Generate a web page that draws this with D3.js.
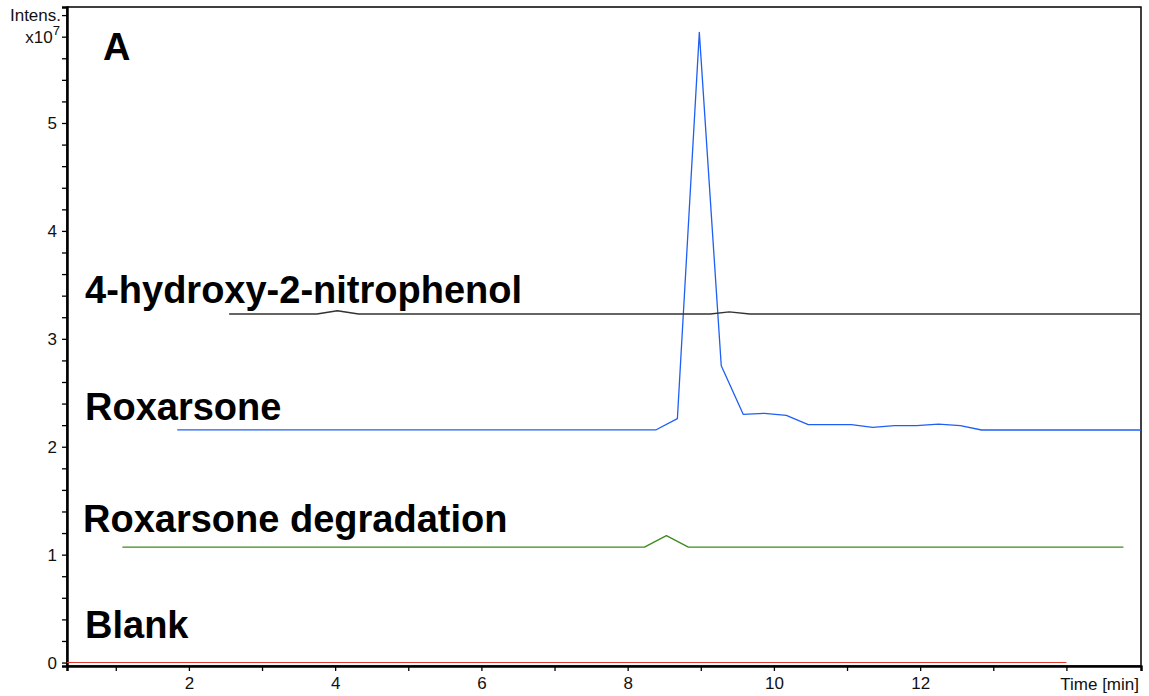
<!DOCTYPE html>
<html>
<head>
<meta charset="utf-8">
<script src="https://cdn.jsdelivr.net/npm/d3@7"></script>
<style>
  html, body { margin: 0; padding: 0; background: #fff; }
  svg { display: block; font-family: "Liberation Sans", Arial, sans-serif; }
</style>
</head>
<body>
<svg id="chart" width="1149" height="696"></svg>
<script>
// Extracted ion chromatograms, intensity in units of 1e7, time in minutes
const blankTrace = [[0.33, 0], [14.0, 0]];
const degradationTrace = [[1.09, 1.069], [8.23, 1.069], [8.53, 1.176], [8.83, 1.069], [14.78, 1.069]];
const roxarsoneTrace = [
  [1.84, 2.157], [8.39, 2.157], [8.68, 2.26], [8.98, 5.84], [9.28, 2.75],
  [9.58, 2.30], [9.87, 2.31], [10.17, 2.29], [10.47, 2.205], [11.06, 2.205],
  [11.35, 2.18], [11.65, 2.195], [11.95, 2.195], [12.25, 2.21], [12.55, 2.195],
  [12.84, 2.155], [15.02, 2.155]
];
const nitrophenolTrace = [
  [2.55, 3.23], [3.75, 3.23], [4.03, 3.26], [4.32, 3.23], [9.13, 3.23],
  [9.39, 3.25], [9.67, 3.23], [15.02, 3.23]
];

const traceNames = ["Blank", "Roxarsone degradation", "Roxarsone", "4-hydroxy-2-nitrophenol"];
const traceColors = ["#e0392e", "#3d8a1e", "#1f5ff5", "#333333"];
const traces = [blankTrace, degradationTrace, roxarsoneTrace, nitrophenolTrace];

const xMajorTicks = [2, 4, 6, 8, 10, 12];
const xMinorTicks = [1, 3, 5, 7, 9, 11, 13];
const xTitleTick = 14;
const yMajorTicks = [0, 1, 2, 3, 4, 5];
const panelLetter = "A";

const svg = d3.select("#chart");
const plot = { left: 67, right: 1141, top: 7, bottom: 666 };

const x = d3.scaleLinear().domain([0.333, 15.02]).range([plot.left, plot.right]);
const y = d3.scaleLinear().domain([-0.032, 6.075]).range([plot.bottom, plot.top]);

// frame
svg.append("rect")
  .attr("x", plot.left).attr("y", plot.top)
  .attr("width", plot.right - plot.left).attr("height", plot.bottom - plot.top)
  .attr("fill", "none").attr("stroke", "#000").attr("stroke-width", 1.5);

// x axis
const xAxis = svg.append("g").attr("transform", `translate(0,${plot.bottom})`);
xAxis.call(d3.axisBottom(x).tickValues(xMajorTicks).tickFormat(d3.format("d")).tickSizeOuter(0).tickSize(5).tickPadding(6));
xAxis.append("g").call(d3.axisBottom(x).tickValues(xMinorTicks.concat([xTitleTick])).tickFormat("").tickSizeOuter(0).tickSize(5));
xAxis.selectAll(".domain").attr("stroke-width", 2);
xAxis.selectAll(".tick line").attr("stroke-width", 1.3);
xAxis.selectAll("text").attr("font-size", 17).attr("font-family", "Liberation Sans, Arial, sans-serif").attr("fill", "#111");
svg.append("text")
  .attr("x", plot.right - 2).attr("y", plot.bottom + 24)
  .attr("text-anchor", "end").attr("font-size", 17).attr("fill", "#111")
  .text("Time [min]");

// y axis
const yMinor = d3.range(0, 61, 2).map(v => v / 10);
const yAxis = svg.append("g").attr("transform", `translate(${plot.left},0)`);
yAxis.call(d3.axisLeft(y).tickValues(yMajorTicks).tickFormat(d3.format("d")).tickSizeOuter(0).tickSize(5).tickPadding(5));
yAxis.append("g").call(d3.axisLeft(y).tickValues(yMinor.filter(v => !yMajorTicks.includes(v))).tickFormat("").tickSizeOuter(0).tickSize(5));
yAxis.selectAll(".domain").attr("stroke-width", 2);
yAxis.selectAll(".tick line").attr("stroke-width", 1.3);
yAxis.selectAll("text").attr("font-size", 17).attr("font-family", "Liberation Sans, Arial, sans-serif").attr("fill", "#111");

// intensity unit label placed at the top tick positions
svg.append("text")
  .attr("x", plot.left - 6).attr("y", y(6.0)).attr("dy", "0.35em")
  .attr("text-anchor", "end").attr("font-size", 17).attr("fill", "#111")
  .text("Intens.");
const unit = svg.append("text")
  .attr("x", plot.left - 7).attr("y", y(5.8)).attr("dy", "0.35em")
  .attr("text-anchor", "end").attr("font-size", 17).attr("fill", "#111");
unit.append("tspan").text("x10");
unit.append("tspan").attr("font-size", 13).attr("dy", "-0.55em").text("7");

// traces
const line = d3.line().x(d => x(d[0])).y(d => y(d[1]));
svg.append("g").selectAll("path")
  .data(traces)
  .join("path")
  .attr("d", line)
  .attr("fill", "none")
  .attr("stroke", (d, i) => traceColors[i])
  .attr("stroke-width", (d, i) => i === 0 ? 1.1 : 1.3)
  .attr("stroke-linejoin", "round");

// trace names, set just above each baseline
const labelOffsets = [0.23, 0.14, 0.09, 0.10];
svg.append("g").selectAll("text")
  .data(traceNames)
  .join("text")
  .attr("x", (d, i) => i === 1 ? 83 : 85)
  .attr("y", (d, i) => y(traces[i][0][1] + labelOffsets[i]))
  .attr("font-size", 38)
  .attr("font-weight", "bold")
  .attr("fill", "#000")
  .text(d => d);

svg.append("text")
  .attr("x", 103).attr("y", 60)
  .attr("font-size", 38).attr("font-weight", "bold").attr("fill", "#000")
  .text(panelLetter);
</script>
</body>
</html>
